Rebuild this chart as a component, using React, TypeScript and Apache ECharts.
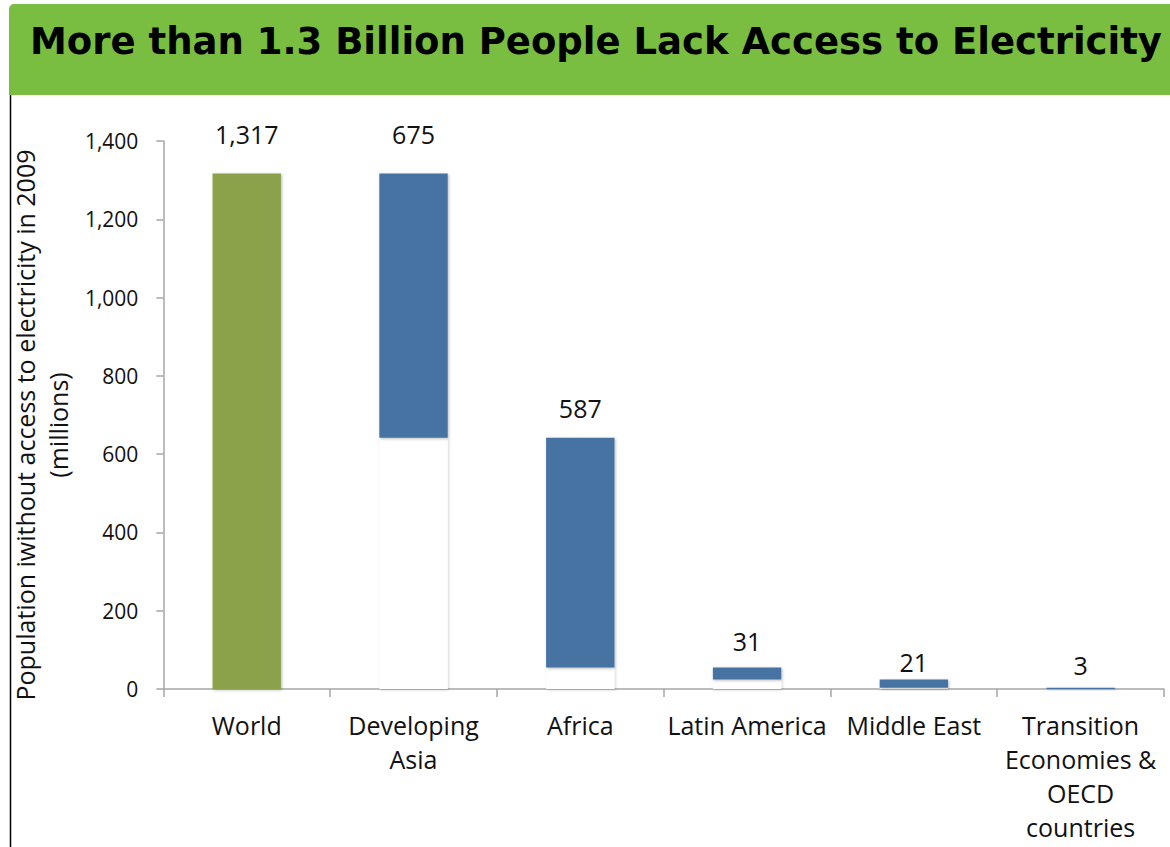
import React, { useEffect, useRef } from "react";
import * as echarts from "echarts";

const categories = [
  "World",
  "Developing\nAsia",
  "Africa",
  "Latin America",
  "Middle East",
  "Transition\nEconomies &\nOECD\ncountries",
];
const values = [1317, 675, 587, 31, 21, 3];
const yTicks = { min: 0, max: 1400, interval: 200 };
const titleText = "More than 1.3 Billion People Lack Access to Electricity";
const yAxisTitle = "Population iwithout access to electricity in 2009\n(millions)";

// label gaps above each bar (style only)
const labelDistances = [27, 27, 17, 14, 5, 10];

const GREEN = "#8AA34B";
const BLUE = "#4673A2";

export default function App() {
  const ref = useRef<HTMLDivElement>(null);
  useEffect(() => {
    document.body.style.margin = "0";
    if (!ref.current) return;
    const chart = echarts.init(ref.current, null, { renderer: "svg" });

    // waterfall bases: each region starts where the previous one ended
    const bases: number[] = [];
    let running = values[0];
    values.forEach((v, i) => {
      if (i === 0) {
        bases.push(0);
      } else {
        running -= v;
        bases.push(running);
      }
    });

    const shadow = {
      shadowColor: "rgba(0,0,0,0.28)",
      shadowBlur: 3,
      shadowOffsetX: 1,
      shadowOffsetY: 1,
    };

    const fmt = (n: number) => n.toLocaleString("en-US");

    chart.setOption({
      animation: false,
      textStyle: { fontFamily: "Open Sans" },
      grid: { left: 162, right: 6, top: 141, bottom: 158, containLabel: false },
      graphic: [
        {
          type: "rect",
          shape: { x: 9, y: 4, width: 1170, height: 91, r: [5, 0, 0, 0] },
          style: { fill: "#79BE41" },
          z: 0,
        },
        {
          type: "text",
          x: 596,
          y: 41,
          style: {
            text: titleText,
            fill: "#000",
            font: "bold 37px 'DejaVu Sans'",
            textAlign: "center",
            textVerticalAlign: "middle",
          },
          z: 1,
        },
        {
          type: "line",
          shape: { x1: 10.5, y1: 95, x2: 10.5, y2: 847 },
          style: { stroke: "#000", lineWidth: 1.5 },
        },
      ],
      xAxis: {
        type: "category",
        data: categories,
        axisLine: { lineStyle: { color: "#A6A6A6", width: 1.5 } },
        axisTick: { show: true, length: 8, lineStyle: { color: "#A6A6A6", width: 1.5 } },
        axisLabel: {
          color: "#111",
          fontSize: 25,
          lineHeight: 34,
          margin: 19,
          interval: 0,
        },
      },
      yAxis: {
        type: "value",
        min: yTicks.min,
        max: yTicks.max,
        interval: yTicks.interval,
        name: yAxisTitle,
        nameLocation: "middle",
        nameRotate: 90,
        nameGap: 88,
        nameTextStyle: {
          color: "#111",
          fontSize: 25,
          lineHeight: 33,
          padding: [0, 20, 0, 0],
        },
        axisLine: { show: true, lineStyle: { color: "#A6A6A6", width: 1.5 } },
        axisTick: { show: true, length: 7, lineStyle: { color: "#A6A6A6", width: 1.5 } },
        axisLabel: {
          color: "#111",
          fontSize: 21,
          margin: 25,
          formatter: (v: number) => fmt(v),
        },
        splitLine: { show: false },
      },
      series: [
        {
          type: "bar",
          stack: "w",
          data: bases,
          barCategoryGap: "59%",
          itemStyle: { color: "#fff", ...shadow, shadowColor: "rgba(0,0,0,0.18)" },
          silent: true,
        },
        {
          type: "bar",
          stack: "w",
          data: values.map((v, i) => ({
            value: v,
            itemStyle: { color: i === 0 ? GREEN : BLUE },
            label: { distance: labelDistances[i] },
          })),
          itemStyle: { ...shadow },
          label: {
            show: true,
            position: "top",
            color: "#111",
            fontSize: 25,
            formatter: (p: any) => fmt(p.value),
          },
        },
      ],
    });
    return () => chart.dispose();
  }, []);
  return <div ref={ref} style={{ width: 1170, height: 847 }} />;
}
